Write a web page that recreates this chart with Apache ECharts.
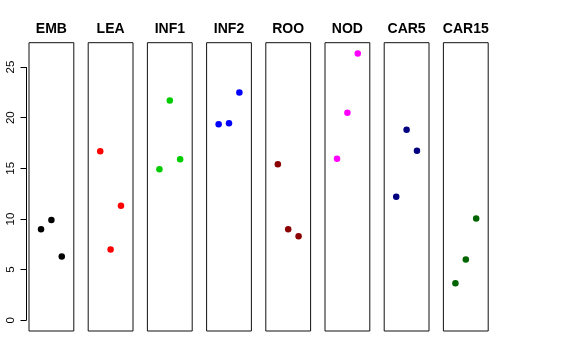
<!DOCTYPE html>
<html><head><meta charset="utf-8">
<script src="https://cdn.jsdelivr.net/npm/echarts@6/dist/echarts.min.js"></script>
<style>html,body{margin:0;padding:0;background:#fff}#c{width:576px;height:360px}</style>
</head><body><div id="c"></div>
<script>
var categories = ['EMB','LEA','INF1','INF2','ROO','NOD','CAR5','CAR15'];
var colors = ['#000000','#FF0000','#00CD00','#0000FF','#8B0000','#FF00FF','#000080','#006400'];
var xPos = [1,2,3];
var EMB = [9.0, 9.9, 6.3];
var LEA = [16.7, 7.0, 11.3];
var INF1 = [14.9, 21.7, 15.9];
var INF2 = [19.35, 19.45, 22.5];
var ROO = [15.4, 9.0, 8.3];
var NOD = [15.95, 20.5, 26.35];
var CAR5 = [12.2, 18.8, 16.75];
var CAR15 = [3.65, 6.0, 10.05];
var seriesValues = [EMB, LEA, INF1, INF2, ROO, NOD, CAR5, CAR15];
var yTicks = [0,5,10,15,20,25];

(function(){
var dataMax = Math.max.apply(null, seriesValues.map(function(a){return Math.max.apply(null,a);}));
var yMin = 0 - 0.04*dataMax, yMax = dataMax*1.04;
var xMin = 0 - 0.04*4, xMax = 4 + 0.04*4;

var gTop = 42.7, gHeight = 288.3, left0 = 29, step = 59.2, w = 44.8;
var grids = [], xAxes = [], yAxes = [], series = [], titles = [];
categories.forEach(function(cat, i){
  var l = left0 + i*step;
  grids.push({left: l, top: gTop, width: w, height: gHeight, show: true, borderColor: '#111', borderWidth: 1, backgroundColor: 'transparent'});
  xAxes.push({type:'value', gridIndex:i, min:xMin, max:xMax, show:false});
  yAxes.push({type:'value', gridIndex:i, min:yMin, max:yMax, show:false});
  series.push({type:'scatter', xAxisIndex:i, yAxisIndex:i, symbol:'circle', symbolSize:6.5,
    itemStyle:{color: colors[i], opacity:1},
    data: seriesValues[i].map(function(v,j){return [xPos[j], v];}), silent:true});
  titles.push({text: cat, left: l + w/2, top: 22.5, textAlign:'center', padding:0,
    textStyle:{fontFamily:'Liberation Sans, Arial, sans-serif', fontWeight:'bold', fontSize:14, color:'#000'}});
});
var ai = categories.length;
grids.push({left: 26.5, top: gTop, width: 1, height: gHeight, show:false});
xAxes.push({type:'value', gridIndex:ai, min:0, max:1, show:false});
yAxes.push({type:'value', gridIndex:ai, min:yMin, max:yMax, position:'left',
  axisLine:{show:false}, splitLine:{show:false},
  axisTick:{show:true, length:6, customValues: yTicks, lineStyle:{color:'#000', width:1}},
  axisLabel:{show:true, customValues: yTicks, rotate:90, margin:10, fontSize:11.5, color:'#000',
    fontFamily:'Liberation Sans, Arial, sans-serif'}});
series.push({type:'line', xAxisIndex:ai, yAxisIndex:ai, symbol:'none', silent:true,
  lineStyle:{color:'#000', width:1},
  data:[[0, yTicks[0]],[0, yTicks[yTicks.length-1]]]});

var chart = echarts.init(document.getElementById('c'), null, {renderer:'canvas'});
chart.setOption({animation:false, backgroundColor:'#fff', title: titles, grid: grids, xAxis: xAxes, yAxis: yAxes, series: series});
})();
</script></body></html>
